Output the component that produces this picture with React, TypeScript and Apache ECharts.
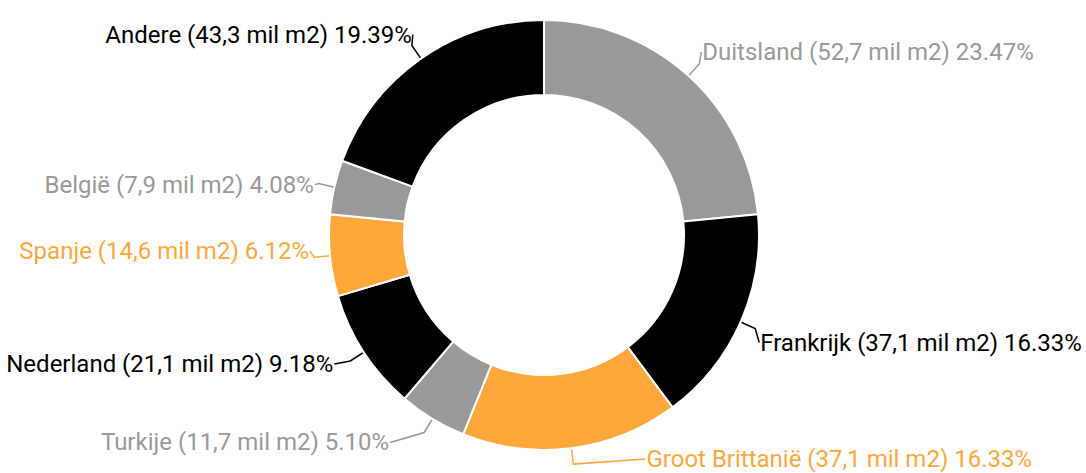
import React, { useEffect, useRef } from "react";
import * as echarts from "echarts";

const countries = ["Duitsland", "Frankrijk", "Groot Brittanië", "Turkije", "Nederland", "Spanje", "België", "Andere"];
const areas = ["52,7", "37,1", "37,1", "11,7", "21,1", "14,6", "7,9", "43,3"];
const percents = [23.47, 16.33, 16.33, 5.1, 9.18, 6.12, 4.08, 19.39];
const colors = ["#999999", "#000000", "#ffa73b", "#999999", "#000000", "#ffa73b", "#999999", "#000000"];

// label nudges (style only), applied on top of the library's own label layout
const labelShiftX = [-2, 0, 68, -30, -12, 0, 0, 5];
const labelShiftY = [-12, 14, -5, 10, 3, -6, 1, -11];

export default function App() {
  const ref = useRef<HTMLDivElement>(null);
  useEffect(() => {
    document.body.style.margin = "0";
    const chart = echarts.init(ref.current!, null, { renderer: "svg" });
    chart.setOption({
      animation: false,
      series: [
        {
          type: "pie",
          center: [544, 235],
          radius: [140, 215],
          startAngle: 90,
          clockwise: true,
          avoidLabelOverlap: false,
          itemStyle: { borderColor: "#ffffff", borderWidth: 2 },
          label: {
            show: true,
            position: "outside",
            fontFamily: "Roboto",
            fontSize: 24,
            distanceToLabelLine: 1,
          },
          labelLine: { show: true, length: 16, length2: 4, lineStyle: { width: 1.5 } },
          labelLayout: (params: any) => {
            const i = params.dataIndex;
            const dx = labelShiftX[i];
            const dy = labelShiftY[i];
            const pts = params.labelLinePoints;
            if (!pts) return { dx, dy };
            const end = [pts[2][0] + dx, pts[2][1] + dy];
            return {
              dx,
              dy,
              labelLinePoints: [pts[0], pts[1], end],
            };
          },
          data: countries.map((c, i) => ({
            name: c,
            value: percents[i],
            itemStyle: { color: colors[i] },
            label: {
              color: colors[i],
              formatter: `${c} (${areas[i]} mil m2) ${percents[i].toFixed(2)}%`,
            },
            labelLine: { lineStyle: { color: colors[i] } },
          })),
        },
      ],
    });
    return () => chart.dispose();
  }, []);
  return <div ref={ref} style={{ width: 1086, height: 473 }} />;
}
